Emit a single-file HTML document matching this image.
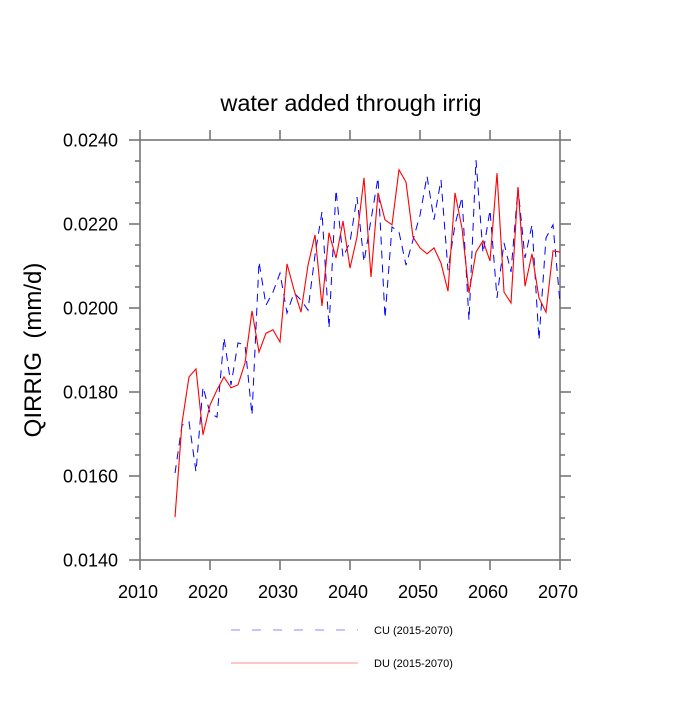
<!DOCTYPE html>
<html><head><meta charset="utf-8"><style>
html,body{margin:0;padding:0;background:#fff;}
svg text{font-family:"Liberation Sans",sans-serif;}
</style></head><body>
<svg id="chart" width="700" height="700" viewBox="0 0 700 700" xmlns="http://www.w3.org/2000/svg">
<text x="351" y="111" font-size="23.5" text-anchor="middle">water added through irrig</text>
<text transform="translate(41,350) rotate(-90)" font-size="24" text-anchor="middle">QIRRIG&#160;&#160;(mm/d)</text>
<g id="axes"></g>
<g id="series"></g>
<g>
<line x1="231" y1="630" x2="358" y2="630" stroke="#8c8cff" stroke-width="1" stroke-dasharray="9,12"/>
<text x="374" y="634" font-size="11">CU (2015-2070)</text>
<line x1="231" y1="663" x2="358" y2="663" stroke="#ff8c8c" stroke-width="1"/>
<text x="374" y="667" font-size="11">DU (2015-2070)</text>
</g>
</svg>
<script>
const startYear = 2015;
const cuValues = [16.07,17.21,17.29,16.10,18.12,17.50,17.40,19.29,18.17,19.17,19.12,17.45,21.10,20.07,20.38,20.83,19.88,20.36,20.19,19.95,21.26,22.29,19.52,22.81,21.21,21.57,22.64,21.10,22.10,23.10,19.76,21.93,21.81,21.02,21.62,22.21,23.14,22.10,23.05,20.90,21.98,22.64,19.71,23.52,21.31,22.33,20.24,21.55,20.86,22.86,21.19,21.98,19.24,21.67,21.98,20.12];
const duValues = [15.02,17.26,18.36,18.55,16.98,17.69,18.05,18.36,18.10,18.17,18.69,19.93,18.95,19.40,19.48,19.19,21.05,20.43,19.90,21.02,21.74,20.05,21.79,21.19,22.07,20.95,21.69,23.10,20.74,22.74,22.10,21.98,23.29,23.00,21.69,21.43,21.29,21.43,21.07,20.40,22.74,21.90,20.36,21.33,21.60,21.12,23.21,20.38,20.12,22.88,20.52,21.29,20.24,19.90,21.36,21.33];
const xTicks = [2010,2020,2030,2040,2050,2060,2070];
const yTicks = [14,16,18,20,22,24];
const yTickLabels = ["0.0140","0.0160","0.0180","0.0200","0.0220","0.0240"];

const NS = "http://www.w3.org/2000/svg";
const L=140,R=560,T=140,B=560;
function xs(yr){return L+(yr-2010)/60*(R-L);}
function ys(v){return B-(v-14)/10*(B-T);}
function mk(tag,attrs,parent){const e=document.createElementNS(NS,tag);for(const k in attrs)e.setAttribute(k,attrs[k]);parent.appendChild(e);return e;}
const axes=document.getElementById('axes');
const AC="#777";
let frame=mk('rect',{x:L,y:T,width:R-L,height:B-T,fill:'none',stroke:AC,'stroke-width':1.6},axes);


xTicks.forEach(t=>{
  const x=xs(t);
  let a=mk('line',{x1:x,y1:B,x2:x,y2:B+10,stroke:AC,'stroke-width':1.6},axes);
  
  
  let b=mk('line',{x1:x,y1:T,x2:x,y2:T-10,stroke:AC,'stroke-width':1.6},axes);
  
  
  let tx=mk('text',{x:x-2,y:598,'font-size':18,'text-anchor':'middle'},axes);
  tx.textContent=t;
  
  
});
for(let v=14;v<=24.001;v+=0.5){
  const y=ys(v);
  const major=Math.abs(v/2-Math.round(v/2))<1e-6;
  const len=major?11:5;
  let a=mk('line',{x1:L-len,y1:y,x2:L,y2:y,stroke:AC,'stroke-width':1.6},axes);
  
  
  let b=mk('line',{x1:R,y1:y,x2:R+len,y2:y,stroke:AC,'stroke-width':1.6},axes);
  
  
}
yTicks.forEach((t,i)=>{
  let tx=mk('text',{x:118,y:ys(t)+6.5,'font-size':18,'text-anchor':'end'},axes);
  tx.textContent=yTickLabels[i];
  
  
});
const series=document.getElementById('series');
function pts(arr){return arr.map((v,i)=>xs(startYear+i).toFixed(1)+','+ys(v).toFixed(1)).join(' ');}
let cu=mk('polyline',{points:pts(cuValues),fill:'none',stroke:'#0000ff','stroke-width':1,'stroke-dasharray':'8,6'},series);


let du=mk('polyline',{points:pts(duValues),fill:'none',stroke:'#ff0000','stroke-width':1.1},series);


</script>
</body></html>
